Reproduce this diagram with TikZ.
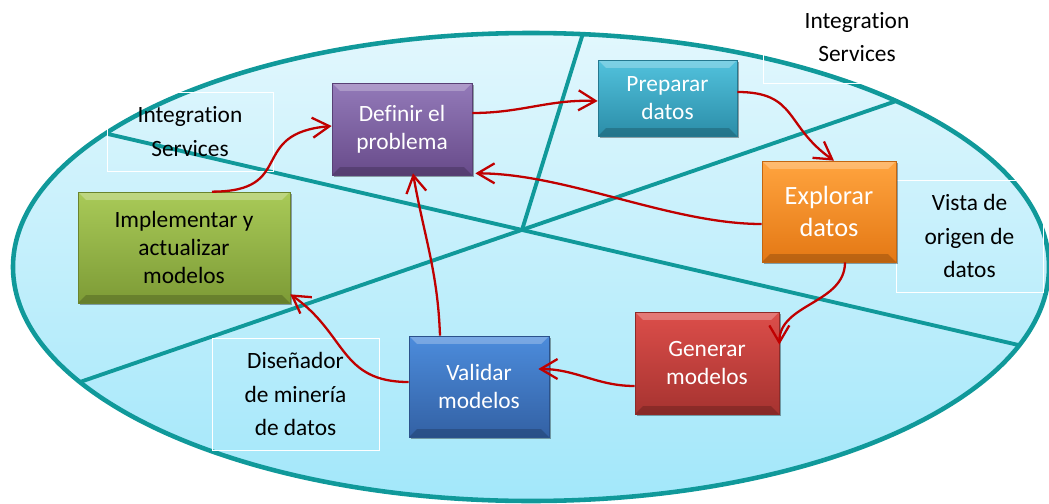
\documentclass[tikz,border=0pt]{standalone}
\usepackage{fontspec}
\setmainfont{Carlito}[Ligatures=NoCommon]
\usetikzlibrary{arrows.meta,shadows,calc}

% ring and arrow colours
\definecolor{ringteal}{HTML}{10999A}
\definecolor{skytop}{HTML}{E2F7FD}
\definecolor{skybot}{HTML}{A2E7FA}
\definecolor{flowred}{HTML}{C00000}
% stage colours (top / bottom of each box)
\definecolor{defTop}{HTML}{937AB9}
\definecolor{defBot}{HTML}{684B8A}
\definecolor{prepTop}{HTML}{52C2DD}
\definecolor{prepBot}{HTML}{2B8DA8}
\definecolor{explTop}{HTML}{FFA43F}
\definecolor{explBot}{HTML}{E47814}
\definecolor{buildTop}{HTML}{DC4E4A}
\definecolor{buildBot}{HTML}{A63330}
\definecolor{valTop}{HTML}{4C8CDC}
\definecolor{valBot}{HTML}{3361A4}
\definecolor{depTop}{HTML}{A9CA58}
\definecolor{depBot}{HTML}{7D9B36}

\tikzset{
  stage/.style 2 args={rectangle, top color=#1, bottom color=#2, draw=#2!85!black,
    line width=0.4pt, text=white, align=center, inner sep=2pt,
    font=\fontsize{13.3}{16}\selectfont,
    drop shadow={shadow xshift=1.3pt, shadow yshift=-1.3pt, opacity=0.35, fill=black},
    path picture={
      % bevelled rim: light on top, dark at the bottom
      \fill[white, opacity=0.25] (path picture bounding box.north west)
        -- (path picture bounding box.north east)
        -- ([xshift=-4.5pt, yshift=-4.5pt]path picture bounding box.north east)
        -- ([xshift=4.5pt, yshift=-4.5pt]path picture bounding box.north west) -- cycle;
      \fill[black, opacity=0.18] (path picture bounding box.south west)
        -- (path picture bounding box.south east)
        -- ([xshift=-4.5pt, yshift=4.5pt]path picture bounding box.south east)
        -- ([xshift=4.5pt, yshift=4.5pt]path picture bounding box.south west) -- cycle;
    }},
  note/.style={rectangle, draw=white, line width=0.5pt, align=center,
    font=\fontsize{13.3}{19}\selectfont},
  flow/.style={draw=flowred, line width=1.3pt,
    -{Straight Barb[length=0.34cm, width=0.4cm]}},
  divider/.style={draw=ringteal, line width=2.2pt},
}

\begin{document}
\begin{tikzpicture}[x=0.02cm, y=0.02cm]
  \useasboundingbox (0,0) rectangle (1049,-504);

  % Background ring with its three dividing lines
  \begin{scope}
    \clip (531,-267) ellipse [x radius=518, y radius=234];
    \shade[top color=skytop, bottom color=skybot] (10,-30) rectangle (1052,-504);
    \draw[divider] (108,-134) -- (1040,-350);
    \draw[divider] (80,-382) -- (905,-98);
    \draw[divider] (584,-30) -- (522,-230);
  \end{scope}
  \draw[ringteal, line width=2.6pt] (531,-267) ellipse [x radius=518, y radius=234];

  % Tool labels
  \node[note, minimum width=3.32cm, minimum height=1.58cm] (isleft) at (190,-131.5) {Integration\\Services};
  \node[note, minimum width=3.76cm, minimum height=1.84cm] (istop) at (857,-37) {Integration\\Services};
  \node[note, minimum width=2.94cm, minimum height=2.24cm] (vista) at (969.5,-236) {Vista de\\origen de\\datos};
  \node[note, minimum width=3.34cm, minimum height=2.24cm] (designer) at (295.5,-394) {Diseñador\\de minería\\de datos};

  % Process stages
  \node[stage={defTop}{defBot}, minimum width=2.8cm, minimum height=1.84cm] (define) at (402,-129) {Definir el\\problema};
  \node[stage={prepTop}{prepBot}, minimum width=2.78cm, minimum height=1.52cm] (prepare) at (667.5,-98) {Preparar\\datos};
  \node[stage={explTop}{explBot}, font=\fontsize{15}{18.5}\selectfont, minimum width=2.68cm, minimum height=2.02cm] (explore) at (829,-211.5) {Explorar\\datos};
  \node[stage={buildTop}{buildBot}, minimum width=2.88cm, minimum height=2.04cm] (build) at (707,-363) {Generar\\modelos};
  \node[stage={valTop}{valBot}, minimum width=2.8cm, minimum height=2.02cm] (validate) at (479,-386.5) {Validar\\modelos};
  \node[stage={depTop}{depBot}, text=black, minimum width=4.24cm, minimum height=2.22cm] (deploy) at (184,-247.5) {Implementar y\\actualizar\\modelos};

  % Cycle arrows
  \draw[flow] ($(deploy.north)+(28,0)$) to[out=0, in=185, looseness=1.6] ($(define.west)+(0,3)$);
  \draw[flow] ($(define.east)+(0,16)$) to[out=0, in=178] ($(prepare.west)+(0,-3)$);
  \draw[flow] ($(prepare.east)+(0,6)$) to[out=0, in=145, looseness=1.3] ($(explore.north)+(5,0)$);
  \draw[flow] ($(explore.west)+(0,-12.5)$) to[out=180, in=0, looseness=0.8] ($(define.south east)+(3,2)$);
  \draw[flow] ($(explore.south)+(16,0)$) to[out=-90, in=90] ($(build.north east)+(0,-33)$);
  \draw[flow] ($(build.west)+(0,-23)$) to[out=180, in=0] ($(validate.east)+(-11,17.5)$);
  \draw[flow] ($(validate.west)+(0,4.5)$) to[out=180, in=-35, looseness=1.2] ($(deploy.south east)+(0,9)$);
  \draw[flow] ($(validate.north)+(-39,0)$) to[out=92, in=-80] ($(define.south)+(11,2)$);
\end{tikzpicture}
\end{document}
